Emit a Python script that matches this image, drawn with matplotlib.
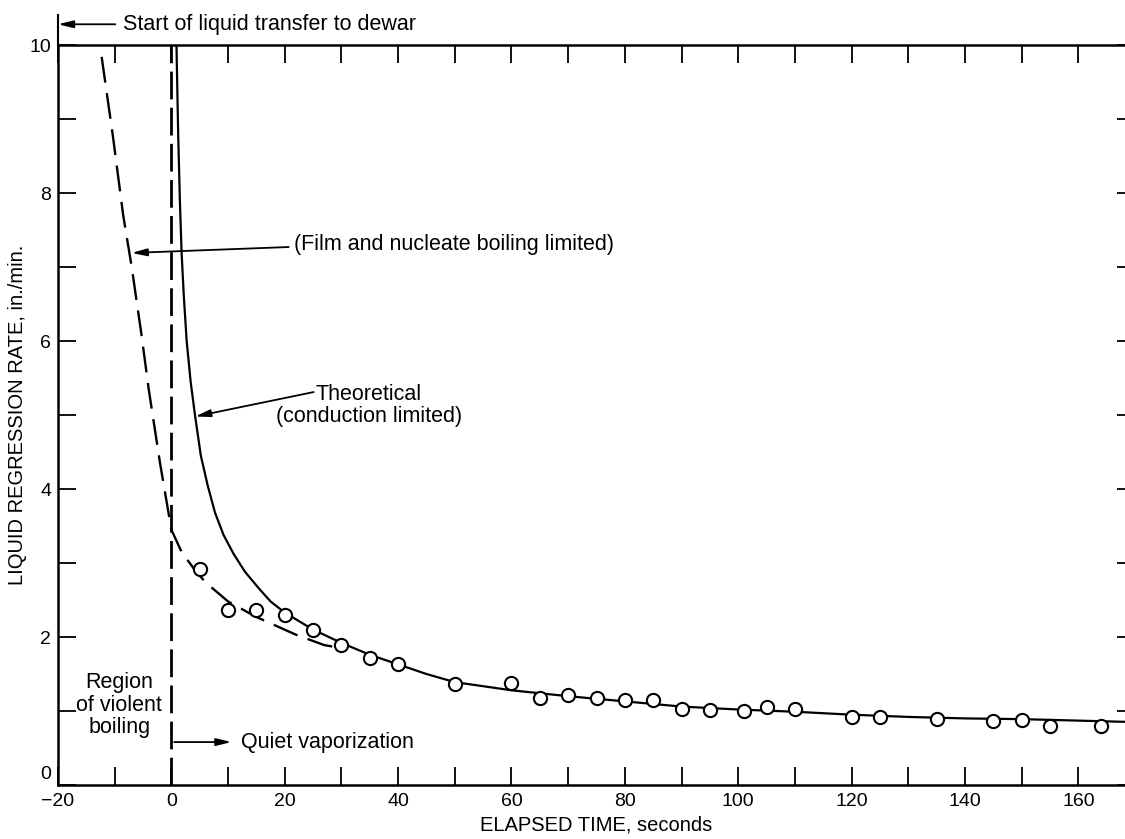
import matplotlib
matplotlib.use('Agg')
import matplotlib.pyplot as plt
import matplotlib.transforms as mtransforms

plt.rcParams['font.family'] = ['Liberation Sans', 'DejaVu Sans']

# measured regression rate (open circles)
obs_t = [5, 10, 15, 20, 25, 30, 35, 40, 50, 60, 65, 70, 75, 80, 85, 90, 95,
         101, 105, 110, 120, 125, 135, 145, 150, 155, 164]
obs_rate = [2.92, 2.36, 2.37, 2.30, 2.10, 1.89, 1.72, 1.64, 1.37, 1.38, 1.18,
            1.22, 1.18, 1.15, 1.15, 1.03, 1.02, 1.00, 1.05, 1.03, 0.915,
            0.915, 0.89, 0.87, 0.88, 0.80, 0.80]

# theoretical (conduction limited) curve
theo_t = [0.9, 1.0, 1.2, 1.5, 1.8, 2.2, 2.7, 3.4, 4.2, 5.2, 6.4, 7.7, 9.2,
          11, 13, 15.4, 17.5, 20, 25, 30, 35, 40, 45, 50, 60, 70, 80, 90,
          100, 110, 120, 130, 140, 150, 160, 170]
theo_rate = [10.0, 9.6, 8.8, 7.9, 7.2, 6.6, 6.0, 5.45, 4.98, 4.45, 4.05, 3.68,
             3.38, 3.12, 2.88, 2.66, 2.48, 2.33, 2.10, 1.92, 1.76, 1.63, 1.50,
             1.39, 1.28, 1.20, 1.13, 1.06, 1.02, 0.99, 0.95, 0.92, 0.90, 0.89,
             0.87, 0.85]

# film and nucleate boiling limited curve (dashed)
film_t = [-12.3, -10.3, -8.5, -7.0, -5.3, -4.0, -3.0, -2.0, -1.0, 0.0, 1.8,
          4.0, 6.0, 10.0, 15.0, 22.0, 27.0, 30.0]
film_rate = [9.84, 8.76, 7.7, 7.0, 6.1, 5.35, 4.85, 4.35, 3.9, 3.45, 3.15,
             2.92, 2.74, 2.48, 2.27, 2.03, 1.89, 1.85]

fs = 15.5

fig = plt.figure(figsize=(11.25, 8.39), dpi=100)
ax = fig.add_axes([58 / 1125, 54 / 839, 1077 / 1125, 740 / 839])

ax.plot(film_t, film_rate, color='k', lw=1.7, linestyle=(0, (11, 4.5)))
ax.plot([0, 0], [0, 10], color='k', lw=2.0, linestyle=(0, (10, 3)))
ax.plot(theo_t, theo_rate, color='k', lw=1.6)
ax.plot(obs_t, obs_rate, linestyle='none', marker='o', ms=9.5,
        mfc='white', mec='k', mew=1.5, zorder=5)

ax.set_xlim(-20, 170)
ax.set_ylim(0, 10)
ax.set_xticks(range(-20, 161, 20))
ax.set_xticks(range(-10, 161, 20), minor=True)
ax.set_yticks(range(0, 11, 2))
ax.set_yticks(range(1, 10, 2), minor=True)
ax.tick_params(which='both', direction='in', length=13, width=1.3,
               top=True, right=True, labelsize=14, pad=5)
ax.tick_params(axis='x', pad=6)
for s in ax.spines.values():
    s.set_linewidth(1.8)

# lift the "0" label a little so it clears "-20"
fig.canvas.draw()
zero = ax.get_yticklabels()[0]
zero.set_transform(zero.get_transform() +
                   mtransforms.ScaledTranslation(0, 9 / 72, fig.dpi_scale_trans))

ax.set_xlabel('ELAPSED TIME, seconds', fontsize=14.5, labelpad=4)
ax.set_ylabel('LIQUID REGRESSION RATE, in./min.', fontsize=14.5, labelpad=2)

arrow = dict(arrowstyle='-|>,head_length=0.9,head_width=0.22', color='k',
             lw=1.3, shrinkA=0, shrinkB=0)

# start of transfer marker above the axes
ax.plot([-20, -20], [10, 10.4], color='k', lw=1.5, clip_on=False)
ax.annotate('', xy=(-20, 10.28), xytext=(-9.9, 10.28), arrowprops=arrow,
            annotation_clip=False)
ax.text(-8.5, 10.28, 'Start of liquid transfer to dewar', fontsize=fs,
        va='center', ha='left', clip_on=False)

ax.annotate('', xy=(-7.0, 7.19), xytext=(20.7, 7.27), arrowprops=arrow)
ax.text(21.6, 7.3, '(Film and nucleate boiling limited)', fontsize=fs,
        va='center', ha='left')

ax.annotate('', xy=(4.2, 4.98), xytext=(25.1, 5.31), arrowprops=arrow)
ax.text(34.8, 5.13, 'Theoretical\n(conduction limited)', fontsize=fs,
        va='center', ha='center', linespacing=1.1)

ax.text(-9.2, 1.08, 'Region\nof violent\nboiling', fontsize=fs,
        va='center', ha='center', linespacing=1.1)

ax.annotate('', xy=(10.6, 0.58), xytext=(0.5, 0.58), arrowprops=arrow)
ax.text(12.2, 0.58, 'Quiet vaporization', fontsize=fs, va='center',
        ha='left')

fig.savefig('out.png', dpi=100)
